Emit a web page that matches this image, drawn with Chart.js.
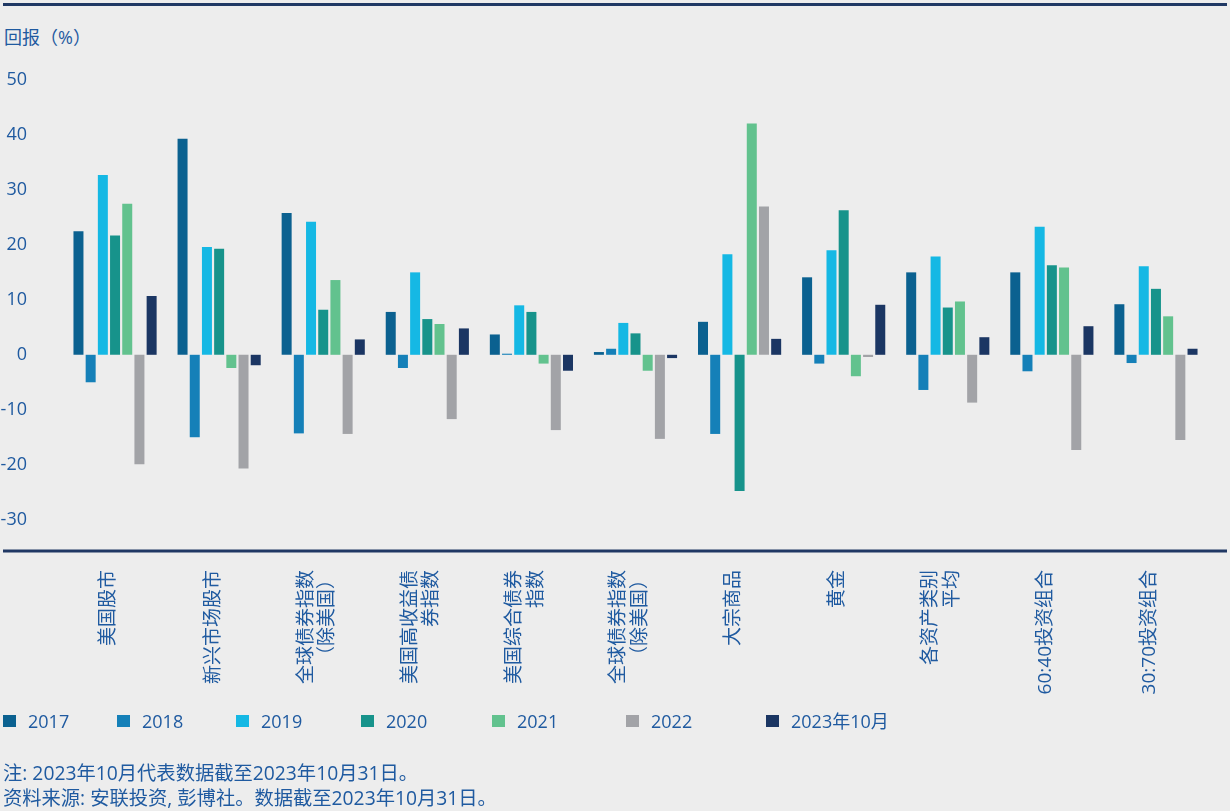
<!DOCTYPE html>
<html><head><meta charset="utf-8">
<script src="https://cdn.jsdelivr.net/npm/chart.js@4"></script>
<style>
html,body{margin:0;padding:0;background:#ededed;width:1230px;height:811px;overflow:hidden;font-family:"Open Sans","Noto Sans CJK SC",sans-serif;color:#1f5aa0}
#wrap{position:relative;width:1230px;height:811px}
canvas{position:absolute;left:0;top:0}
.topline{position:absolute;left:3px;top:3px;width:1224px;height:2.5px;background:#203864}
.title{position:absolute;left:4px;top:26px;font-size:18px;line-height:22px;white-space:nowrap}
.lg{position:absolute;top:710px;height:22px;line-height:22px;font-size:18px;white-space:nowrap}
.lg i{position:absolute;left:0;top:4.5px;width:12.5px;height:12.5px}
.lg span{position:absolute;left:25px;top:0}
.note{position:absolute;left:3px;font-size:19.3px;line-height:25px;white-space:nowrap}
</style></head>
<body><div id="wrap">
<div class="topline"></div>
<div class="title">回报（%）</div>
<canvas id="c" width="1230" height="811"></canvas>
<div id="legend"></div>
<div class="note" style="top:760px">注: 2023年10月代表数据截至2023年10月31日。</div>
<div class="note" style="top:785px">资料来源: 安联投资, 彭博社。数据截至2023年10月31日。</div>
</div>
<script>
const categories = [['美国股市'],['新兴市场股市'],['全球债券指数','（除美国）'],['美国高收益债','券指数'],['美国综合债券','指数'],['全球债券指数','（除美国）'],['大宗商品'],['黄金'],['各资产类别','平均'],['60:40投资组合'],['30:70投资组合']];
const seriesNames = ['2017','2018','2019','2020','2021','2022','2023年10月'];
const v2017 = [22.5, 39.3, 25.8, 7.8, 3.7, 0.5, 6.0, 14.1, 15.0, 15.0, 9.2];
const v2018 = [-5.0, -15.0, -14.3, -2.4, 0.2, 1.1, -14.4, -1.6, -6.4, -3.0, -1.5];
const v2019 = [32.7, 19.6, 24.2, 15.0, 9.0, 5.8, 18.3, 19.0, 17.9, 23.3, 16.1];
const v2020 = [21.7, 19.3, 8.2, 6.5, 7.8, 3.9, -24.8, 26.3, 8.6, 16.3, 12.0];
const v2021 = [27.5, -2.4, 13.6, 5.6, -1.6, -2.9, 42.1, -3.9, 9.7, 15.9, 7.0];
const v2022 = [-19.9, -20.7, -14.4, -11.7, -13.7, -15.3, 27.0, -0.4, -8.7, -17.3, -15.5];
const v2023 = [10.7, -1.9, 2.8, 4.8, -2.9, -0.6, 2.9, 9.1, 3.2, 5.2, 1.1];
const yTicks = [50, 40, 30, 20, 10, 0, -10, -20, -30];

const seriesValues = [v2017, v2018, v2019, v2020, v2021, v2022, v2023];
const colors = ['#0b6190', '#1580b8', '#15b8e4', '#17938b', '#62c28e', '#a2a3a7', '#1b3663'];
const legendLeft = [3, 117, 236, 361, 492, 626, 766];
const TEXT = '#1f5aa0';
const FONT = '"Open Sans","Noto Sans CJK SC",sans-serif';

const lg = document.getElementById('legend');
seriesNames.forEach((n, i) => {
  const d = document.createElement('div');
  d.className = 'lg';
  d.style.left = legendLeft[i] + 'px';
  d.innerHTML = '<i style="background:' + colors[i] + '"></i><span>' + n + '</span>';
  lg.appendChild(d);
});

const decor = {
  id: 'decor',
  afterDraw(chart) {
    const ctx = chart.ctx, a = chart.chartArea, xs = chart.scales.x;
    ctx.save();
    ctx.strokeStyle = '#203864';
    ctx.lineWidth = 3;
    ctx.beginPath();
    ctx.moveTo(3, a.bottom);
    ctx.lineTo(1227, a.bottom);
    ctx.stroke();
    ctx.fillStyle = TEXT;
    ctx.font = '19px ' + FONT;
    ctx.textAlign = 'right';
    ctx.textBaseline = 'middle';
    const lh = 21.5;
    categories.forEach((lines, i) => {
      const cx = xs.getPixelForTick(i) - 6;
      const n = lines.length;
      lines.forEach((t, j) => {
        const x = cx + (j - (n - 1) / 2) * lh;
        ctx.save();
        ctx.translate(x, a.bottom + 19);
        ctx.rotate(-Math.PI / 2);
        ctx.fillText(t, 0, 0);
        ctx.restore();
      });
    });
    ctx.restore();
  }
};

new Chart(document.getElementById('c'), {
  type: 'bar',
  data: {
    labels: categories.map(c => c.join('')),
    datasets: seriesNames.map((n, i) => ({
      label: n, data: seriesValues[i], backgroundColor: colors[i],
      categoryPercentage: 0.82, barPercentage: 0.82, borderWidth: 0
    }))
  },
  options: {
    responsive: false, animation: false, devicePixelRatio: 1,
    layout: { padding: { left: 0, right: 22, top: 80, bottom: 110 } },
    plugins: { legend: { display: false }, tooltip: { enabled: false } },
    scales: {
      x: {
        grid: { display: false, drawTicks: false }, border: { display: false },
        ticks: { display: false },
        afterFit(s) { s.height = 150; }
      },
      y: {
        min: -35.7, max: 50,
        grid: { display: false, drawTicks: false }, border: { display: false },
        afterBuildTicks(s) { s.ticks = yTicks.map(v => ({ value: v })); },
        afterFit(s) { s.width = 63; },
        ticks: { padding: 36, color: TEXT, font: { size: 18, family: FONT } }
      }
    }
  },
  plugins: [decor]
});
</script>
</body></html>
